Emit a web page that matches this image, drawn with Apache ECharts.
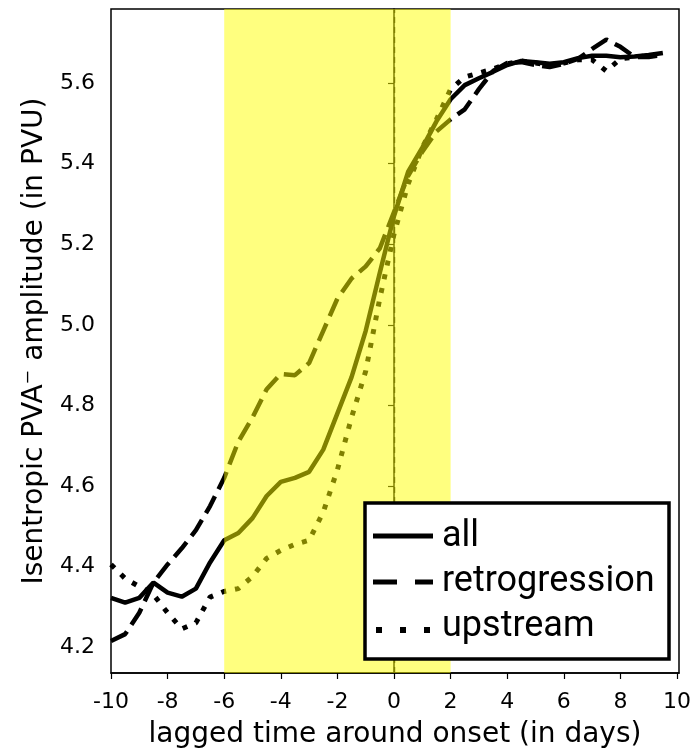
<!DOCTYPE html>
<html>
<head>
<meta charset="utf-8">
<script src="https://cdn.jsdelivr.net/npm/echarts@6/dist/echarts.min.js"></script>
<style>
html,body{margin:0;padding:0;background:#fff;}
#chart{width:693px;height:748px;}
</style>
</head>
<body>
<div id="chart"></div>
<script>
const days = [-10,-9.5,-9,-8.5,-8,-7.5,-7,-6.5,-6,-5.5,-5,-4.5,-4,-3.5,-3,-2.5,-2,-1.5,-1,-0.5,0,0.5,1,1.5,2,2.5,3,3.5,4,4.5,5,5.5,6,6.5,7,7.5,8,8.5,9,9.5];
const allValues = [4.322,4.31,4.322,4.36,4.335,4.325,4.345,4.41,4.465,4.483,4.52,4.575,4.61,4.62,4.635,4.69,4.78,4.87,4.985,5.13,5.27,5.38,5.44,5.505,5.56,5.595,5.612,5.628,5.645,5.655,5.652,5.648,5.652,5.662,5.668,5.668,5.664,5.666,5.67,5.675];
const retroValues = [4.215,4.232,4.285,4.36,4.405,4.445,4.49,4.55,4.62,4.71,4.77,4.84,4.878,4.875,4.905,4.985,5.065,5.115,5.145,5.19,5.28,5.37,5.43,5.48,5.51,5.535,5.585,5.63,5.65,5.652,5.645,5.64,5.648,5.66,5.685,5.708,5.69,5.665,5.665,5.67];
const upstreamValues = [4.405,4.37,4.35,4.33,4.285,4.245,4.26,4.324,4.338,4.345,4.375,4.42,4.44,4.455,4.465,4.535,4.64,4.77,4.885,5.066,5.225,5.35,5.44,5.51,5.585,5.615,5.625,5.635,5.648,5.655,5.65,5.645,5.65,5.658,5.658,5.63,5.66,5.665,5.668,5.67];
const xTicks = [-10,-8,-6,-4,-2,0,2,4,6,8,10];
const yTicks = [4.2,4.4,4.6,4.8,5.0,5.2,5.4,5.6];
const onsetSpan = [-6, 2];
const seriesNames = ['all','retrogression','upstream'];

const pairs = vals => days.map((d,i)=>[d, vals[i]]);
const chart = echarts.init(document.getElementById('chart'), null, {renderer:'canvas'});
const tickFont = {fontFamily:'DejaVu Sans', fontSize:22, color:'#000'};
const titleFont = {fontFamily:'DejaVu Sans', fontSize:28, color:'#000'};
const option = {
  animation:false,
  grid:{left:111, right:14, top:9, bottom:75, show:true, borderColor:'#000', borderWidth:1.5, backgroundColor:'#fff', containLabel:false, outerBoundsMode:'none'},
  xAxis:{
    type:'value', min:-10, max:10.07,
    axisLine:{show:true, lineStyle:{color:'#000', width:1.5}},
    axisTick:{show:true, inside:false, length:6, lineStyle:{color:'#000', width:1.2}, customValues:xTicks},
    axisLabel:Object.assign({margin:18, customValues:xTicks, formatter:v=>String(v)}, tickFont),
    splitLine:{show:false},
    name:'lagged time around onset (in days)', nameLocation:'middle', nameGap:48,
    nameTextStyle:titleFont
  },
  yAxis:{
    type:'value', min:4.1355, max:5.784,
    axisLine:{show:true, lineStyle:{color:'#000', width:1.5}},
    axisTick:{show:true, inside:false, length:6, lineStyle:{color:'#000', width:1.2}, customValues:yTicks},
    axisLabel:Object.assign({margin:16, customValues:yTicks, formatter:v=>v.toFixed(1)}, tickFont),
    splitLine:{show:false},
    name:'Isentropic PVA\u207B amplitude (in PVU)', nameLocation:'middle', nameGap:57,
    nameTextStyle:titleFont
  },
  series:[
    {name:seriesNames[0], type:'line', data:pairs(allValues), showSymbol:false, symbol:'none', z:2,
     lineStyle:{color:'#000', width:4.5, type:'solid'},
     markLine:{silent:true, z:1, symbol:'none', label:{show:false}, lineStyle:{color:'#000', width:1.4, type:[6,4]}, data:[{xAxis:0}]}},
    {name:seriesNames[1], type:'line', data:pairs(retroValues), showSymbol:false, symbol:'none', z:2,
     lineStyle:{color:'#000', width:4.5, type:[19,8], cap:'butt'}},
    {name:seriesNames[2], type:'line', data:pairs(upstreamValues), showSymbol:false, symbol:'none', z:2,
     lineStyle:{color:'#000', width:5, type:[5,9], cap:'butt'}},
    {name:'span', type:'line', data:[], z:20,
     markArea:{silent:true, z:20, itemStyle:{color:'#ffff00', opacity:0.5}, data:[[{xAxis:onsetSpan[0]},{xAxis:onsetSpan[1]}]]}}
  ],
  graphic:[
    {type:'rect', z:100, shape:{x:365, y:503, width:304, height:156}, style:{fill:'#fff', stroke:'#000', lineWidth:3.5}},
    {type:'line', z:101, shape:{x1:373, y1:536, x2:433, y2:536}, style:{stroke:'#000', lineWidth:5}},
    {type:'line', z:101, shape:{x1:373, y1:582, x2:433, y2:582}, style:{stroke:'#000', lineWidth:5, lineDash:[24,18]}},
    {type:'line', z:101, shape:{x1:376, y1:630, x2:433, y2:630}, style:{stroke:'#000', lineWidth:6, lineDash:[6,18]}},
    {type:'text', z:101, x:442, y:537, style:{text:seriesNames[0], font:'36px Roboto', fill:'#000', verticalAlign:'middle'}},
    {type:'text', z:101, x:442, y:582, style:{text:seriesNames[1], font:'36px Roboto', fill:'#000', verticalAlign:'middle'}},
    {type:'text', z:101, x:442, y:627, style:{text:seriesNames[2], font:'36px Roboto', fill:'#000', verticalAlign:'middle'}}
  ]
};
chart.setOption(option);
</script>
</body>
</html>
